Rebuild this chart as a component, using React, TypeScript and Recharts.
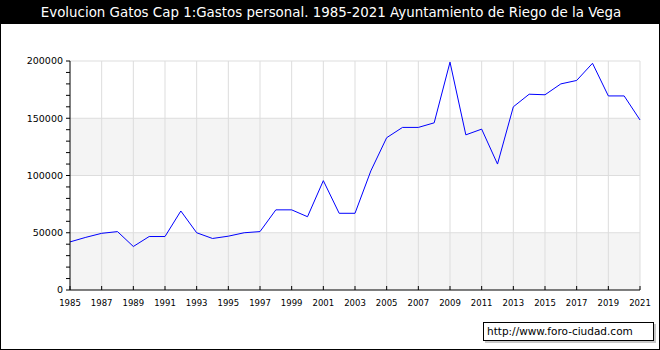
import { LineChart, Line, XAxis, YAxis, CartesianGrid } from "recharts";

const years = [
  1985, 1986, 1987, 1988, 1989, 1990, 1991, 1992, 1993, 1994, 1995, 1996, 1997,
  1998, 1999, 2000, 2001, 2002, 2003, 2004, 2005, 2006, 2007, 2008, 2009, 2010,
  2011, 2012, 2013, 2014, 2015, 2016, 2017, 2018, 2019, 2020, 2021,
];

const gastos = [
  42000, 46000, 49500, 51000, 38000, 46700, 46700, 69000, 50000, 45000, 47000,
  50000, 51000, 70000, 70000, 64000, 95500, 67000, 67000, 104000, 133000,
  142000, 142000, 146000, 199000, 135500, 140500, 110000, 160000, 171000,
  170500, 180000, 183000, 198000, 169500, 169500, 148500,
];

const xTicks = [
  1985, 1987, 1989, 1991, 1993, 1995, 1997, 1999, 2001, 2003, 2005, 2007, 2009,
  2011, 2013, 2015, 2017, 2019, 2021,
];

const yTicks = [
  0, 10000, 20000, 30000, 40000, 50000, 60000, 70000, 80000, 90000, 100000,
  110000, 120000, 130000, 140000, 150000, 160000, 170000, 180000, 190000, 200000,
];

const gridY = [50000, 100000, 150000, 200000];

const data = years.map((year, i) => ({ year, value: gastos[i] }));

const FONT = "'DejaVu Sans', Verdana, sans-serif";

// ticks of the x axis point up into the plot, labels sit below
const XTick = (props: any) => {
  const { x, y, payload } = props;
  return (
    <g>
      <line x1={x} y1={y} x2={x} y2={y - 4} stroke="#000" />
      <text x={x} y={y + 16} textAnchor="middle" fontSize={8.5} fontFamily={FONT} fill="#000">
        {payload.value}
      </text>
    </g>
  );
};

const App = () => {
  return (
    <div
      style={{
        position: "absolute",
        left: 0,
        top: 0,
        width: 660,
        height: 350,
        boxSizing: "border-box",
        border: "1px solid #000",
        background: "#fff",
        overflow: "hidden",
      }}
    >
      <div
        style={{
          position: "absolute",
          left: 0,
          top: 0,
          width: 660,
          height: 23,
          background: "#000",
          color: "#fff",
          fontFamily: FONT,
          fontSize: 13.4,
          lineHeight: "23px",
          textAlign: "center",
        }}
      >
        Evolucion Gatos Cap 1:Gastos personal. 1985-2021 Ayuntamiento de Riego de la Vega
      </div>

      <div style={{ position: "absolute", left: -1, top: -1 }}>
        <LineChart
          width={660}
          height={350}
          data={data}
          margin={{ top: 61, right: 20, bottom: 40, left: 0 }}
        >
          <CartesianGrid
            stroke="#dddddd"
            horizontalValues={gridY}
            verticalValues={xTicks.slice(1)}
            horizontalFill={["#ffffff", "#f4f4f4"]}
            fillOpacity={1}
          />
          <XAxis
            dataKey="year"
            type="number"
            domain={[1985, 2021]}
            ticks={xTicks}
            interval={0}
            height={20}
            stroke="#000"
            tickLine={false}
            tickSize={0}
            tickMargin={0}
            tick={<XTick />}
          />
          <YAxis
            type="number"
            domain={[0, 200000]}
            ticks={yTicks}
            interval={0}
            width={70}
            stroke="#000"
            tickSize={4}
            tickMargin={3}
            tick={{ fontSize: 9.5, fontFamily: FONT, fill: "#000" }}
            tickFormatter={(v: number) => (v % 50000 === 0 ? String(v) : "")}
          />
          <Line
            type="linear"
            dataKey="value"
            stroke="#0000ff"
            strokeWidth={1}
            dot={false}
            isAnimationActive={false}
          />
        </LineChart>
      </div>

      <div
        style={{
          position: "absolute",
          left: 482,
          top: 321,
          width: 171,
          height: 19,
          boxSizing: "border-box",
          border: "1px solid #000",
          background: "#fff",
          boxShadow: "2px 2px 0 #c8c8c8",
          fontFamily: FONT,
          fontSize: 10.5,
          lineHeight: "17px",
          paddingLeft: 3,
          color: "#000",
        }}
      >
        http://www.foro-ciudad.com
      </div>
    </div>
  );
};

export default App;
